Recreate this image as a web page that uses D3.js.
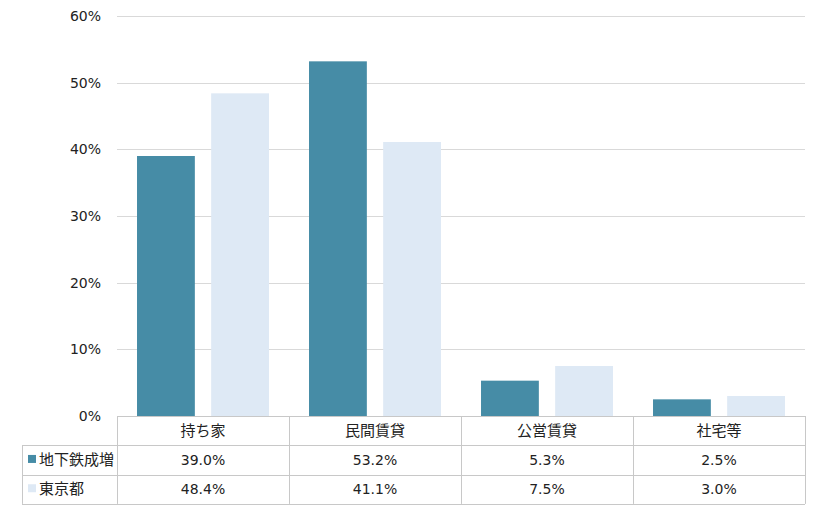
<!DOCTYPE html>
<html>
<head>
<meta charset="utf-8">
<script src="https://cdn.jsdelivr.net/npm/d3@7"></script>
<style>
  body { margin: 0; background: #fff; }
  text { font-family: "DejaVu Sans", "Noto Sans CJK JP", sans-serif; fill: #222; }
</style>
</head>
<body>
<svg id="chart"></svg>
<script>
// categories and series
const categories = ["持ち家", "民間賃貸", "公営賃貸", "社宅等"];
const seriesNames = ["地下鉄成増", "東京都"];
const narimasu = [39.0, 53.2, 5.3, 2.5];
const tokyo = [48.4, 41.1, 7.5, 3.0];
const yTicks = [0, 10, 20, 30, 40, 50, 60];

const seriesValues = [narimasu, tokyo];
const colors = ["#468ca6", "#dee9f5"];

let layout = {"width": 820, "height": 510,
              "marginTop": 16, "marginRight": 15,
              "marginBottom": 94, "marginLeft": 117};

const svg = d3.select("#chart")
  .attr("width", layout.width)
  .attr("height", layout.height);

const x = d3.scaleBand()
  .domain(categories)
  .range([layout.marginLeft, layout.width - layout.marginRight]);

const xInner = d3.scaleBand()
  .domain(seriesNames)
  .range([0, x.bandwidth()])
  .paddingInner(0.22)
  .paddingOuter(0.27);

const y = d3.scaleLinear()
  .domain([0, 60])
  .range([layout.height - layout.marginBottom, layout.marginTop]);

// gridlines
svg.append("g")
  .selectAll("line")
  .data(yTicks.slice(1))
  .join("line")
  .attr("x1", layout.marginLeft)
  .attr("x2", layout.width - layout.marginRight)
  .attr("y1", d => Math.round(y(d)) + 0.5)
  .attr("y2", d => Math.round(y(d)) + 0.5)
  .attr("stroke", "#d9d9d9")
  .attr("stroke-width", 1);

// y axis labels
svg.append("g")
  .selectAll("text")
  .data(yTicks)
  .join("text")
  .attr("x", 101)
  .attr("y", d => y(d) + 5)
  .attr("text-anchor", "end")
  .attr("font-size", 14)
  .text(d => d + "%");

// bars
const groups = svg.append("g")
  .selectAll("g")
  .data(categories)
  .join("g")
  .attr("transform", d => `translate(${x(d)},0)`);

groups.selectAll("rect")
  .data((d, i) => seriesNames.map((s, j) => ({s, v: seriesValues[j][i], j})))
  .join("rect")
  .attr("x", d => xInner(d.s))
  .attr("width", xInner.bandwidth())
  .attr("y", d => y(d.v))
  .attr("height", d => y(0) - y(d.v))
  .attr("fill", d => colors[d.j]);

// data table
const tableTop = y(0);
const rowH = 29.3;
const legendLeft = 22;
const tbl = svg.append("g");
const lineColor = "#c8c8c8";

// horizontal lines
[0, 1, 2, 3].forEach(r => {
  const yy = Math.round(tableTop + r * rowH) + 0.5;
  tbl.append("line")
    .attr("x1", r === 0 ? layout.marginLeft : legendLeft)
    .attr("x2", layout.width - layout.marginRight)
    .attr("y1", yy).attr("y2", yy)
    .attr("stroke", lineColor);
});

// vertical lines
const vx = [layout.marginLeft].concat(categories.map(c => x(c) + x.bandwidth()));
vx.forEach(xx => {
  tbl.append("line")
    .attr("x1", Math.round(xx) + 0.5).attr("x2", Math.round(xx) + 0.5)
    .attr("y1", tableTop)
    .attr("y2", tableTop + 3 * rowH)
    .attr("stroke", lineColor);
});
tbl.append("line")
  .attr("x1", legendLeft + 0.5).attr("x2", legendLeft + 0.5)
  .attr("y1", tableTop + rowH)
  .attr("y2", tableTop + 3 * rowH)
  .attr("stroke", lineColor);

// header
tbl.selectAll(".hdr")
  .data(categories)
  .join("text")
  .attr("class", "hdr")
  .attr("x", d => x(d) + x.bandwidth() / 2)
  .attr("y", tableTop + rowH / 2 + 5)
  .attr("text-anchor", "middle")
  .attr("font-size", 15)
  .attr("font-family", "Noto Sans CJK JP")
  .text(d => d);

// rows
seriesNames.forEach((s, j) => {
  const cy = tableTop + (j + 1) * rowH + rowH / 2;
  tbl.append("rect")
    .attr("x", 28).attr("y", cy - 5)
    .attr("width", 8).attr("height", 8)
    .attr("fill", colors[j]);
  tbl.append("text")
    .attr("x", 39).attr("y", cy + 5)
    .attr("font-size", 15)
    .attr("font-family", "Noto Sans CJK JP")
    .text(s);
  tbl.selectAll(".v" + j)
    .data(seriesValues[j])
    .join("text")
    .attr("x", (d, i) => x(categories[i]) + x.bandwidth() / 2)
    .attr("y", cy + 5)
    .attr("text-anchor", "middle")
    .attr("font-size", 14)
    .text(d => d.toFixed(1) + "%");
});
</script>
</body>
</html>
